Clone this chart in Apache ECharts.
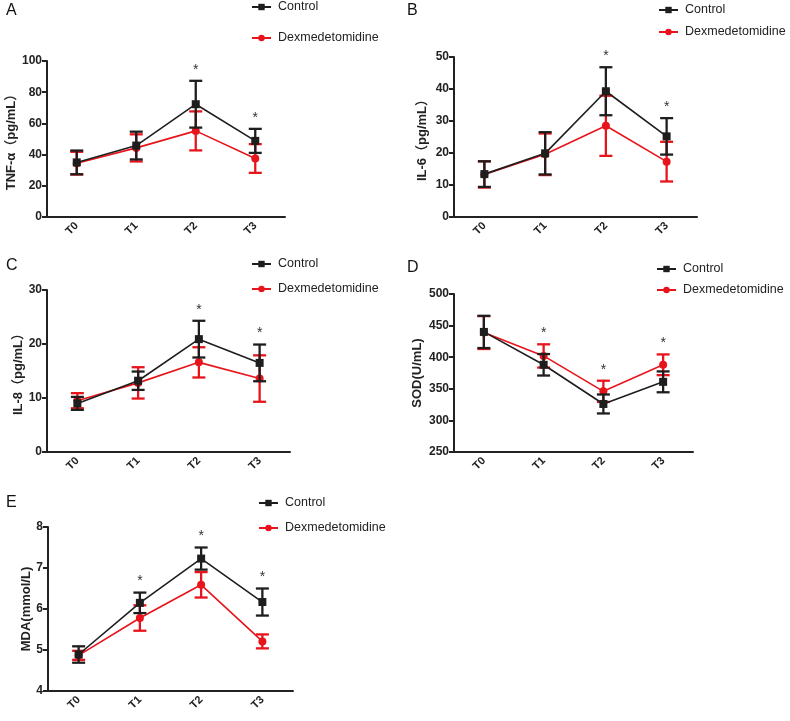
<!DOCTYPE html>
<html>
<head>
<meta charset="utf-8">
<script src="https://cdn.jsdelivr.net/npm/echarts@6/dist/echarts.min.js"></script>
<style>
  html, body { margin: 0; background: #fff; }
  #chart { width: 790px; height: 721px; }
</style>
</head>
<body>
<div id="chart"></div>
<script>
// categories and groups
const timePoints = ['T0', 'T1', 'T2', 'T3'];
const groupNames = ['Control', 'Dexmedetomidine'];

// A: TNF-α
const tnfControl = [35, 45.8, 72.3, 48.8];
const tnfControlSd = [7.6, 8.9, 15, 7.7];
const tnfDex = [34.5, 44.3, 55.2, 37.5];
const tnfDexSd = [7.3, 8.7, 12.5, 9.2];
const tnfSig = [false, false, true, true];

// B: IL-6
const il6Control = [13.4, 19.9, 39.3, 25.2];
const il6ControlSd = [4.0, 6.6, 7.5, 5.7];
const il6Dex = [13.3, 19.6, 28.5, 17.3];
const il6DexSd = [4.1, 6.5, 9.4, 6.2];
const il6Sig = [false, false, true, true];

// C: IL-8
const il8Control = [9.0, 13.2, 20.9, 16.5];
const il8ControlSd = [1.2, 1.7, 3.4, 3.4];
const il8Dex = [9.5, 12.8, 16.6, 13.6];
const il8DexSd = [1.4, 2.9, 2.8, 4.3];
const il8Sig = [false, false, true, true];

// D: SOD
const sodControl = [440, 388, 326, 361];
const sodControlSd = [25.5, 17, 15, 16.5];
const sodDex = [439, 402, 346, 388];
const sodDexSd = [26, 18.4, 16.8, 16.4];
const sodSig = [false, true, true, true];

// E: MDA
const mdaControl = [4.89, 6.15, 7.23, 6.17];
const mdaControlSd = [0.2, 0.25, 0.27, 0.33];
const mdaDex = [4.87, 5.78, 6.59, 5.21];
const mdaDexSd = [0.11, 0.31, 0.31, 0.17];
const mdaSig = [false, true, true, true];

const CTRL_COLOR = '#1e1e1e';
const DEX_COLOR = '#e8141b';
const FONT = '"Liberation Sans", Arial, "Noto Sans CJK SC", sans-serif';

const panels = [
  { letter: 'A', yName: 'TNF-α（pg/mL）', min: 0, max: 100, interval: 20,
    ctrl: tnfControl, ctrlSd: tnfControlSd, dex: tnfDex, dexSd: tnfDexSd, sig: tnfSig,
    grid: { left: 47, top: 61, width: 238, height: 156 }, nameGap: 25,
    title: { left: 6, top: 3 }, legend: { left: 251, top: 0, itemGap: 17 } },
  { letter: 'B', yName: 'IL-6（pg/mL）', min: 0, max: 50, interval: 10,
    ctrl: il6Control, ctrlSd: il6ControlSd, dex: il6Dex, dexSd: il6DexSd, sig: il6Sig,
    grid: { left: 454, top: 57, width: 243, height: 160 }, nameGap: 25,
    title: { left: 407, top: 3 }, legend: { left: 658, top: 3, itemGap: 8 } },
  { letter: 'C', yName: 'IL-8（pg/mL）', min: 0, max: 30, interval: 10,
    ctrl: il8Control, ctrlSd: il8ControlSd, dex: il8Dex, dexSd: il8DexSd, sig: il8Sig,
    grid: { left: 47, top: 290, width: 243, height: 162 }, nameGap: 22,
    title: { left: 6, top: 258 }, legend: { left: 251, top: 257, itemGap: 11 } },
  { letter: 'D', yName: 'SOD(U/mL)', min: 250, max: 500, interval: 50,
    ctrl: sodControl, ctrlSd: sodControlSd, dex: sodDex, dexSd: sodDexSd, sig: sodSig,
    grid: { left: 454, top: 294, width: 239, height: 158 }, nameGap: 30,
    title: { left: 407, top: 260 }, legend: { left: 656, top: 262, itemGap: 7 } },
  { letter: 'E', yName: 'MDA(mmol/L)', min: 4, max: 8, interval: 1,
    ctrl: mdaControl, ctrlSd: mdaControlSd, dex: mdaDex, dexSd: mdaDexSd, sig: mdaSig,
    grid: { left: 48, top: 527, width: 245, height: 164 }, nameGap: 12,
    title: { left: 6, top: 495 }, legend: { left: 258, top: 496, itemGap: 11 } }
];

function errorBarItem(params, api) {
  const x = api.value(0);
  const lo = api.coord([x, api.value(1)]);
  const hi = api.coord([x, api.value(2)]);
  const half = 6.5;
  const style = { stroke: api.visual('color'), lineWidth: 2.3 };
  return {
    type: 'group',
    children: [
      { type: 'line', shape: { x1: hi[0], y1: hi[1], x2: lo[0], y2: lo[1] }, style: style },
      { type: 'line', shape: { x1: hi[0] - half, y1: hi[1], x2: hi[0] + half, y2: hi[1] }, style: style },
      { type: 'line', shape: { x1: lo[0] - half, y1: lo[1], x2: lo[0] + half, y2: lo[1] }, style: style }
    ]
  };
}

// asterisk sits a fixed gap above the taller error bar
function starItem(params, api) {
  const p = api.coord([api.value(0), api.value(1)]);
  return {
    type: 'text',
    x: p[0],
    y: p[1] - 11,
    style: { text: '*', fill: '#333', font: '14px ' + FONT, align: 'center', verticalAlign: 'middle' }
  };
}

const grid = [], xAxis = [], yAxis = [], series = [], title = [], legend = [];

panels.forEach((p, i) => {
  grid.push(p.grid);
  title.push({ text: p.letter, left: p.title.left, top: p.title.top, padding: 0,
    textStyle: { fontSize: 16, fontWeight: 'normal', color: '#111', fontFamily: FONT } });
  legend.push({
    data: groupNames, orient: 'vertical', left: p.legend.left, top: p.legend.top, padding: 0,
    itemGap: p.legend.itemGap, itemWidth: 19, itemHeight: 8,
    textStyle: { fontSize: 12.5, color: '#222', fontFamily: FONT, padding: [0, 0, 0, 2], lineHeight: 14 }
  });
  xAxis.push({
    type: 'category', gridIndex: i, data: timePoints, boundaryGap: true,
    axisLine: { lineStyle: { color: '#222', width: 2 } },
    axisTick: { alignWithLabel: true, length: 5, lineStyle: { width: 2, color: '#222' } },
    axisLabel: { rotate: 45, margin: 7, fontSize: 11, fontWeight: 'bold', color: '#222', fontFamily: FONT, interval: 0 },
    splitLine: { show: false }
  });
  yAxis.push({
    type: 'value', gridIndex: i, min: p.min, max: p.max, interval: p.interval,
    name: p.yName, nameLocation: 'middle', nameRotate: 90, nameGap: p.nameGap,
    nameTextStyle: { fontSize: 13, fontWeight: 'bold', color: '#222', fontFamily: FONT },
    axisLine: { show: true, lineStyle: { color: '#222', width: 2 } },
    axisTick: { show: true, length: 5, lineStyle: { width: 2, color: '#222' } },
    axisLabel: { margin: 5, fontSize: 12, fontWeight: 'bold', color: '#222', fontFamily: FONT },
    splitLine: { show: false }
  });

  const groups = [
    { name: 'Dexmedetomidine', mean: p.dex, sd: p.dexSd, color: DEX_COLOR, symbol: 'circle', size: 8, z: 2 },
    { name: 'Control', mean: p.ctrl, sd: p.ctrlSd, color: CTRL_COLOR, symbol: 'rect', size: 8, z: 4 }
  ];
  groups.forEach(g => {
    series.push({
      type: 'line', name: g.name, xAxisIndex: i, yAxisIndex: i, data: g.mean,
      symbol: g.symbol, symbolSize: g.size, z: g.z,
      itemStyle: { color: g.color }, lineStyle: { color: g.color, width: 1.6 }
    });
    series.push({
      type: 'custom', name: g.name + ' SD', xAxisIndex: i, yAxisIndex: i, z: g.z + 1,
      itemStyle: { color: g.color }, renderItem: errorBarItem, clip: false,
      data: g.mean.map((m, j) => [j, m - g.sd[j], m + g.sd[j]])
    });
  });

  const stars = [];
  p.sig.forEach((s, j) => {
    if (s) stars.push([j, Math.max(p.ctrl[j] + p.ctrlSd[j], p.dex[j] + p.dexSd[j])]);
  });
  series.push({
    type: 'custom', name: 'sig', xAxisIndex: i, yAxisIndex: i, z: 6, clip: false,
    renderItem: starItem, data: stars
  });
});

const chart = echarts.init(document.getElementById('chart'));
chart.setOption({
  animation: false,
  backgroundColor: '#fff',
  title: title,
  legend: legend,
  grid: grid,
  xAxis: xAxis,
  yAxis: yAxis,
  series: series
});
window.onresize = () => chart.resize();
</script>
</body>
</html>
